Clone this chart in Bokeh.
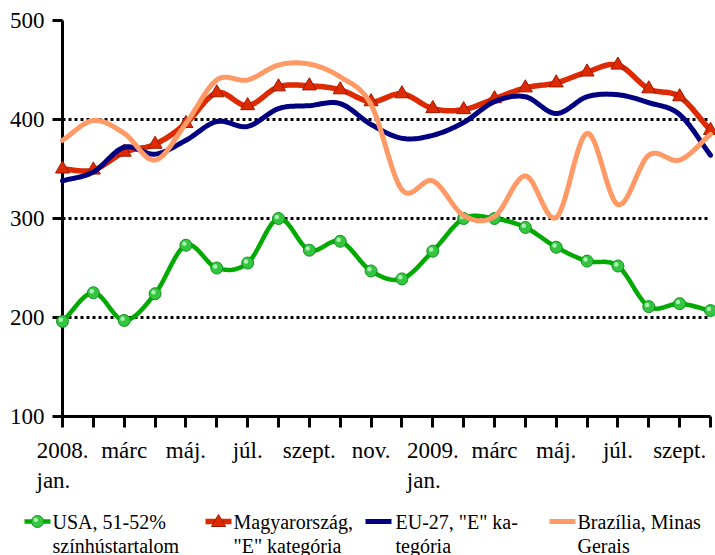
import numpy as np
from bokeh.plotting import figure
from bokeh.models import Range1d, FixedTicker
from bokeh.embed import file_html
from bokeh.resources import INLINE
from bokeh.core.properties import value

# ---------------- data ----------------
months = ["2008. jan.", "febr.", "márc", "ápr.", "máj.", "jún.", "júl.", "aug.",
          "szept.", "okt.", "nov.", "dec.", "2009. jan.", "febr.", "márc", "ápr.",
          "máj.", "jún.", "júl.", "aug.", "szept.", "okt."]
tick_labels = ["2008.", "", "márc", "", "máj.", "", "júl.", "", "szept.", "", "nov.", "",
               "2009.", "", "márc", "", "máj.", "", "júl.", "", "szept.", ""]
second_line_idx = [0, 12]
second_line_txt = ["jan.", "jan."]

usa = [196, 225, 197, 224, 273, 250, 255, 300, 268, 277, 247, 239,
       267, 300, 300, 291, 271, 257, 252, 211, 214, 207]
hun = [350, 349, 367, 375, 396, 427, 414, 433, 434, 430, 418, 426,
       411, 410, 421, 432, 437, 448, 455, 431, 423, 389]
eu = [338, 347, 372, 365, 379, 398, 393, 411, 414, 416, 395, 381,
      384, 397, 418, 423, 406, 423, 425, 417, 405, 364]
bra = [379, 399, 386, 359, 396, 440, 440, 455, 456, 443, 415, 329,
       338, 303, 302, 343, 301, 386, 314, 364, 359, 385]

series_line1 = ["USA, 51-52%", "Magyarország,", "EU-27, \"E\" ka-", "Brazília, Minas"]
series_line2 = ["színhústartalom", "\"E\" kategória", "tegória", "Gerais"]

FONT = "Liberation Serif"
C_USA, C_HUN, C_EU, C_BRA = "#00aa00", "#dd2a00", "#000080", "#ff9966"
USA_FILL, USA_EDGE, USA_HI = "#33c63f", "#168f22", "#b9f5bf"
HUN_FILL, HUN_EDGE = "#dd2a00", "#9e1a00"

# ---------------- layout (screen px) ----------------
W, H = 715, 555
FL, FR, FT, FB = 62, 710, 20, 416          # frame edges
XMIN, XMAX, YMIN, YMAX = 0, len(months) - 1, 100, 500
PX_X = (FR - FL) / (XMAX - XMIN)           # px per x unit
PX_Y = (FB - FT) / (YMAX - YMIN)           # px per y unit


def dx(px):   # screen x -> data x
    return XMIN + (px - FL) / PX_X


def dy(py):   # screen y -> data y
    return YMAX - (py - FT) / PX_Y


def smooth(vals, n=16):
    """Catmull-Rom (Excel-like smoothed line) through the data points."""
    y = np.asarray(vals, dtype=float)
    x = np.arange(len(y), dtype=float)
    m = np.empty_like(y)
    m[1:-1] = (y[2:] - y[:-2]) / 2.0
    m[0] = y[1] - y[0]
    m[-1] = y[-1] - y[-2]
    xs, ys = [], []
    t = np.linspace(0, 1, n, endpoint=False)
    h00 = 2 * t**3 - 3 * t**2 + 1
    h10 = t**3 - 2 * t**2 + t
    h01 = -2 * t**3 + 3 * t**2
    h11 = t**3 - t**2
    for i in range(len(y) - 1):
        xs.extend(x[i] + t)
        ys.extend(h00 * y[i] + h10 * m[i] + h01 * y[i + 1] + h11 * m[i + 1])
    xs.append(x[-1]); ys.append(y[-1])
    return xs, ys


idx = list(range(len(months)))

p = figure(width=W, height=H, x_range=Range1d(XMIN, XMAX), y_range=Range1d(YMIN, YMAX),
           output_backend="svg", toolbar_location=None,
           min_border_left=FL, min_border_right=W - FR, min_border_top=FT,
           min_border_bottom=H - FB)
p.outline_line_color = None
p.background_fill_color = "white"
p.border_fill_color = "white"

p.xgrid.visible = False
p.ygrid.ticker = FixedTicker(ticks=[200, 300, 400, 500])
p.ygrid.grid_line_color = "black"
p.ygrid.grid_line_width = 3
p.ygrid.grid_line_dash = "3 3"

for ax in (p.xaxis, p.yaxis):
    ax.axis_line_color = "black"
    ax.axis_line_width = 3
    ax.major_tick_line_color = "black"
    ax.major_tick_line_width = 3
    ax.major_tick_in = 0
    ax.minor_tick_line_color = None
    ax.major_label_text_font = FONT
    ax.major_label_text_font_size = "23px"
    ax.major_label_text_color = "black"

p.xaxis.ticker = FixedTicker(ticks=idx)
p.xaxis.major_label_overrides = {i: lab for i, lab in enumerate(tick_labels)}
p.xaxis.major_tick_out = 11
p.xaxis.major_label_standoff = 10
p.yaxis.ticker = FixedTicker(ticks=[100, 200, 300, 400, 500])
p.yaxis.major_tick_out = 10
p.yaxis.major_label_standoff = 8

# second line of the category labels ("jan.")
p.text(x=[i - 26 / PX_X for i in second_line_idx], y=[dy(480)] * len(second_line_idx),
       text=second_line_txt, text_font=value(FONT), text_font_size="23px",
       text_color="black", text_align="left", text_baseline="alphabetic", level="overlay")

# ---------------- series ----------------
xs, ys = smooth(usa)
p.line(xs, ys, line_color=C_USA, line_width=4.5, line_join="round", line_cap="round")
p.scatter(idx, usa, marker="circle", size=12, fill_color=USA_FILL,
          line_color=USA_EDGE, line_width=1, level="overlay")
p.scatter([i - 1.6 / PX_X for i in idx], [v + 1.6 / PX_Y for v in usa], marker="circle",
          size=4.5, fill_color=USA_HI, line_color=None, fill_alpha=0.9, level="overlay")

xs, ys = smooth(hun)
p.line(xs, ys, line_color=C_HUN, line_width=5.5, line_join="round", line_cap="round")
p.scatter(idx, hun, marker="triangle", size=14, fill_color=HUN_FILL,
          line_color=HUN_EDGE, line_width=1, level="overlay")

xs, ys = smooth(eu)
p.line(xs, ys, line_color=C_EU, line_width=5, line_join="round", line_cap="round",
       level="overlay")

xs, ys = smooth(bra)
p.line(xs, ys, line_color=C_BRA, line_width=5, line_join="round", line_cap="round",
       level="overlay")

# ---------------- legend ----------------
glyph_x0 = [24, 205, 365, 549]
text_x = [52, 233, 395, 577]
row1, row2 = 521, 545
colors = [C_USA, C_HUN, C_EU, C_BRA]
widths = [4.5, 5.5, 5, 5]
for k in range(4):
    p.segment(dx(glyph_x0[k]), dy(row1), dx(glyph_x0[k] + 26), dy(row1),
              line_color=colors[k], line_width=widths[k], level="overlay")

# legend markers as small polygons (scatter markers outside the range get culled)
ang = np.linspace(0, 2 * np.pi, 28, endpoint=False)
cx, cy = glyph_x0[0] + 13, row1
p.patch([dx(cx + 6 * np.cos(a)) for a in ang], [dy(cy + 6 * np.sin(a)) for a in ang],
        fill_color=USA_FILL, line_color=USA_EDGE, line_width=1, level="overlay")
p.patch([dx(cx - 1.6 + 2.2 * np.cos(a)) for a in ang],
        [dy(cy - 1.6 + 2.2 * np.sin(a)) for a in ang],
        fill_color=USA_HI, line_color=None, fill_alpha=0.9, level="overlay")
tx, ty = glyph_x0[1] + 13, row1
p.patch([dx(tx - 7), dx(tx), dx(tx + 7)], [dy(ty + 5), dy(ty - 7), dy(ty + 5)],
        fill_color=HUN_FILL, line_color=HUN_EDGE, line_width=1, level="overlay")

p.text(x=[dx(v) for v in text_x], y=[dy(row1)] * 4, text=series_line1,
       text_font=value(FONT), text_font_size="20px", text_baseline="middle",
       text_color="black", level="overlay")
p.text(x=[dx(v) for v in text_x], y=[dy(row2)] * 4, text=series_line2,
       text_font=value(FONT), text_font_size="20px", text_baseline="middle",
       text_color="black", level="overlay")

open("out.html", "w").write(file_html(p, INLINE))
